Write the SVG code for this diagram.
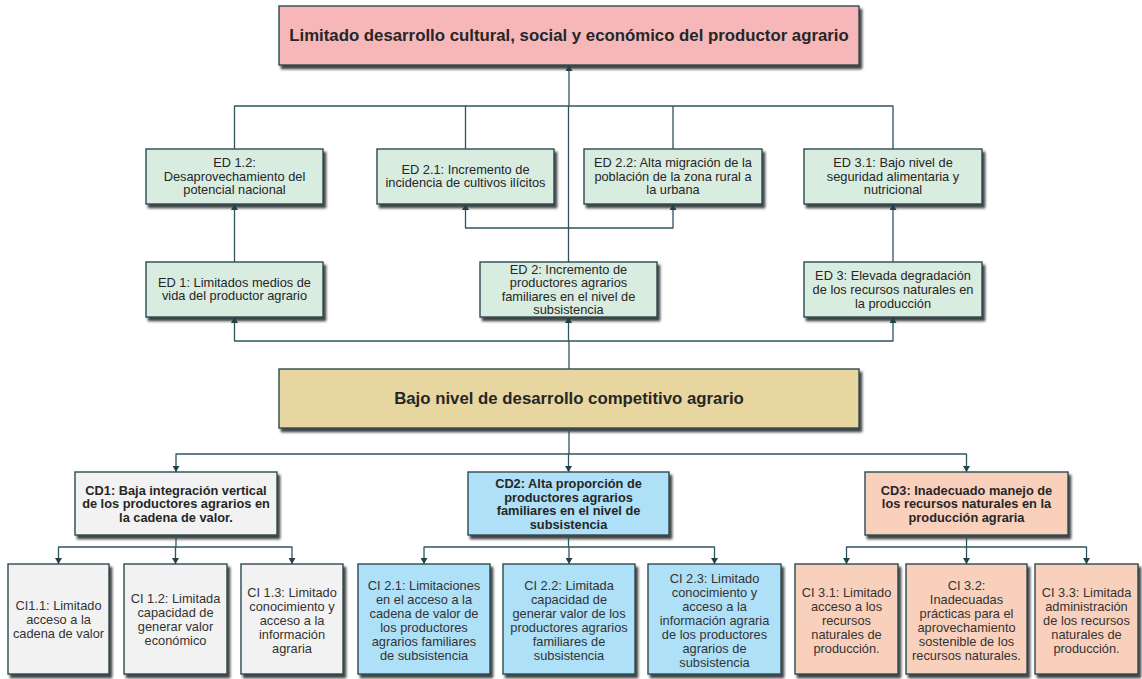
<svg xmlns="http://www.w3.org/2000/svg" width="1142" height="679" viewBox="0 0 1142 679">
<style>
.box{stroke:#2b4a52;stroke-width:1.4;filter:url(#sh)}
.pink{fill:#f7b7b8}
.green{fill:#d9ece0}
.tan{fill:#e8d6a0}
.gray{fill:#f2f2f2}
.blue{fill:#aee0f7}
.peach{fill:#f9d0bc}
text{font-family:"Liberation Sans",Arial,sans-serif;text-anchor:middle;fill:#262626}
.t{font-size:12.8px}
.b{font-size:12.8px;font-weight:bold}
.h{font-size:16.8px;font-weight:bold}
.c{font-size:12.8px;fill:#333}
.ln{fill:none;stroke:#2e555e;stroke-width:1.3;stroke-linejoin:round}
.ar{marker-end:url(#ah)}
</style>
<defs>
<filter id="sh" x="-5%" y="-5%" width="115%" height="125%">
<feDropShadow dx="2.5" dy="3.5" stdDeviation="1.2" flood-color="#1a1a1a" flood-opacity="0.85"/>
</filter>
<marker id="ah" markerUnits="userSpaceOnUse" markerWidth="7" markerHeight="7" refX="6" refY="3.5" orient="auto">
<path d="M0,0 L6,3.5 L0,7 Z" fill="#1f434b"/>
</marker>
</defs>

<g id="top">
<rect class="box pink" x="279" y="6" width="580" height="59"/>
<text class="h" x="569" y="41">Limitado desarrollo cultural, social y económico del productor agrario</text>
</g>

<g id="ed12">
<rect class="box green" x="146" y="149" width="177" height="55"/>
<text class="t" x="234.5" y="167"><tspan x="234.5">ED 1.2:</tspan><tspan x="234.5" dy="13.7">Desaprovechamiento del</tspan><tspan x="234.5" dy="13.7">potencial nacional</tspan></text>
</g>
<g id="ed21">
<rect class="box green" x="377" y="149" width="177" height="55"/>
<text class="t" x="465.5" y="173.5"><tspan x="465.5">ED 2.1: Incremento de</tspan><tspan x="465.5" dy="13.7">incidencia de cultivos ilícitos</tspan></text>
</g>
<g id="ed22">
<rect class="box green" x="584" y="149" width="178" height="55"/>
<text class="t" x="673" y="167"><tspan x="673">ED 2.2: Alta migración de la</tspan><tspan x="673" dy="13.7">población de la zona rural a</tspan><tspan x="673" dy="13.7">la urbana</tspan></text>
</g>
<g id="ed31">
<rect class="box green" x="804" y="149" width="178" height="55"/>
<text class="t" x="893" y="167"><tspan x="893">ED 3.1: Bajo nivel de</tspan><tspan x="893" dy="13.7">seguridad alimentaria y</tspan><tspan x="893" dy="13.7">nutricional</tspan></text>
</g>
<g id="ed1">
<rect class="box green" x="146" y="262" width="177" height="55"/>
<text class="t" x="234.5" y="286.5"><tspan x="234.5">ED 1: Limitados medios de</tspan><tspan x="234.5" dy="13.9">vida del productor agrario</tspan></text>
</g>
<g id="ed2">
<rect class="box green" x="480" y="262" width="177" height="55"/>
<text class="t" x="568.5" y="273.5"><tspan x="568.5">ED 2: Incremento de</tspan><tspan x="568.5" dy="13.5">productores agrarios</tspan><tspan x="568.5" dy="13.5">familiares en el nivel de</tspan><tspan x="568.5" dy="13.5">subsistencia</tspan></text>
</g>
<g id="ed3">
<rect class="box green" x="804" y="262" width="178" height="55"/>
<text class="t" x="893" y="279.5"><tspan x="893">ED 3: Elevada degradación</tspan><tspan x="893" dy="14">de los recursos naturales en</tspan><tspan x="893" dy="14">la producción</tspan></text>
</g>

<g id="bajo">
<rect class="box tan" x="279" y="369" width="580" height="59"/>
<text class="h" x="569" y="403.5">Bajo nivel de desarrollo competitivo agrario</text>
</g>

<g id="cd1">
<rect class="box gray" x="75" y="472" width="202" height="63"/>
<text class="b" x="176" y="494.5"><tspan x="176">CD1: Baja integración vertical</tspan><tspan x="176" dy="13.6">de los productores agrarios en</tspan><tspan x="176" dy="13.4">la cadena de valor.</tspan></text>
</g>
<g id="cd2">
<rect class="box blue" x="468" y="472" width="201" height="63"/>
<text class="b" x="568.5" y="488"><tspan x="568.5">CD2: Alta proporción de</tspan><tspan x="568.5" dy="13.5">productores agrarios</tspan><tspan x="568.5" dy="13.5">familiares en el nivel de</tspan><tspan x="568.5" dy="13.5">subsistencia</tspan></text>
</g>
<g id="cd3">
<rect class="box peach" x="865" y="472" width="203" height="63"/>
<text class="b" x="966.5" y="494.5"><tspan x="966.5">CD3: Inadecuado manejo de</tspan><tspan x="966.5" dy="13.6">los recursos naturales en la</tspan><tspan x="966.5" dy="13.4">producción agraria</tspan></text>
</g>

<g id="ci11">
<rect class="box gray" x="8" y="564" width="101" height="110"/>
<text class="c" x="58.5" y="610"><tspan x="58.5">CI1.1: Limitado</tspan><tspan x="58.5" dy="14">acceso a la</tspan><tspan x="58.5" dy="14">cadena de valor</tspan></text>
</g>
<g id="ci12">
<rect class="box gray" x="124" y="564" width="103" height="110"/>
<text class="c" x="175.5" y="602.5"><tspan x="175.5">CI 1.2: Limitada</tspan><tspan x="175.5" dy="14">capacidad de</tspan><tspan x="175.5" dy="14">generar valor</tspan><tspan x="175.5" dy="14">económico</tspan></text>
</g>
<g id="ci13">
<rect class="box gray" x="241" y="564" width="102" height="110"/>
<text class="c" x="292" y="596.5"><tspan x="292">CI 1.3: Limitado</tspan><tspan x="292" dy="14">conocimiento y</tspan><tspan x="292" dy="14">acceso a la</tspan><tspan x="292" dy="14">información</tspan><tspan x="292" dy="14">agraria</tspan></text>
</g>
<g id="ci21">
<rect class="box blue" x="358" y="564" width="132" height="110"/>
<text class="c" x="424" y="589.5"><tspan x="424">CI 2.1: Limitaciones</tspan><tspan x="424" dy="14">en el acceso a la</tspan><tspan x="424" dy="14">cadena de valor de</tspan><tspan x="424" dy="14">los productores</tspan><tspan x="424" dy="14">agrarios familiares</tspan><tspan x="424" dy="14">de subsistencia</tspan></text>
</g>
<g id="ci22">
<rect class="box blue" x="503" y="564" width="132" height="110"/>
<text class="c" x="569" y="589.5"><tspan x="569">CI 2.2: Limitada</tspan><tspan x="569" dy="14">capacidad de</tspan><tspan x="569" dy="14">generar valor de los</tspan><tspan x="569" dy="14">productores agrarios</tspan><tspan x="569" dy="14">familiares de</tspan><tspan x="569" dy="14">subsistencia</tspan></text>
</g>
<g id="ci23">
<rect class="box blue" x="648" y="564" width="133" height="110"/>
<text class="c" x="714.5" y="582.5"><tspan x="714.5">CI 2.3: Limitado</tspan><tspan x="714.5" dy="14">conocimiento y</tspan><tspan x="714.5" dy="14">acceso a la</tspan><tspan x="714.5" dy="14">información agraria</tspan><tspan x="714.5" dy="14">de los productores</tspan><tspan x="714.5" dy="14">agrarios de</tspan><tspan x="714.5" dy="14">subsistencia</tspan></text>
</g>
<g id="ci31">
<rect class="box peach" x="795" y="564" width="103" height="110"/>
<text class="c" x="846.5" y="596.5"><tspan x="846.5">CI 3.1: Limitado</tspan><tspan x="846.5" dy="14">acceso a los</tspan><tspan x="846.5" dy="14">recursos</tspan><tspan x="846.5" dy="14">naturales de</tspan><tspan x="846.5" dy="14">producción.</tspan></text>
</g>
<g id="ci32">
<rect class="box peach" x="906" y="564" width="121" height="110"/>
<text class="c" x="966.5" y="589.5"><tspan x="966.5">CI 3.2:</tspan><tspan x="966.5" dy="14">Inadecuadas</tspan><tspan x="966.5" dy="14">prácticas para el</tspan><tspan x="966.5" dy="14">aprovechamiento</tspan><tspan x="966.5" dy="14">sostenible de los</tspan><tspan x="966.5" dy="14">recursos naturales.</tspan></text>
</g>
<g id="ci33">
<rect class="box peach" x="1035" y="564" width="103" height="110"/>
<text class="c" x="1086.5" y="596.5"><tspan x="1086.5">CI 3.3: Limitada</tspan><tspan x="1086.5" dy="14">administración</tspan><tspan x="1086.5" dy="14">de los recursos</tspan><tspan x="1086.5" dy="14">naturales de</tspan><tspan x="1086.5" dy="14">producción.</tspan></text>
</g>

<g id="connectors">
<path class="ln" d="M234.5,149 V106 H893 V149 M465.5,149 V106 M673,149 V106 M568.5,262 V106"/>
<path class="ln ar" d="M569,106 V65"/>
<path class="ln ar" d="M568.5,228 H465.5 V204"/>
<path class="ln ar" d="M568.5,228 H673 V204"/>
<path class="ln ar" d="M234.5,262 V204"/>
<path class="ln ar" d="M893,262 V204"/>
<path class="ln" d="M569,369 V341"/>
<path class="ln ar" d="M569,341 H234.5 V317"/>
<path class="ln ar" d="M569,341 H893 V317"/>
<path class="ln ar" d="M568.5,341 V317"/>
<path class="ln" d="M569,428 V454"/>
<path class="ln ar" d="M569,454 H176 V472"/>
<path class="ln ar" d="M569,454 H966.5 V472"/>
<path class="ln ar" d="M568.5,454 V472"/>
<path class="ln" d="M176,535 V547"/>
<path class="ln ar" d="M176,547 H58.5 V564"/>
<path class="ln ar" d="M175.5,547 V564"/>
<path class="ln ar" d="M176,547 H292 V564"/>
<path class="ln" d="M568.5,535 V547"/>
<path class="ln ar" d="M568.5,547 H424 V564"/>
<path class="ln ar" d="M569,547 V564"/>
<path class="ln ar" d="M568.5,547 H714.5 V564"/>
<path class="ln" d="M966.5,535 V547"/>
<path class="ln ar" d="M966.5,547 H846.5 V564"/>
<path class="ln ar" d="M966.5,547 V564"/>
<path class="ln ar" d="M966.5,547 H1086.5 V564"/>
</g>
</svg>
